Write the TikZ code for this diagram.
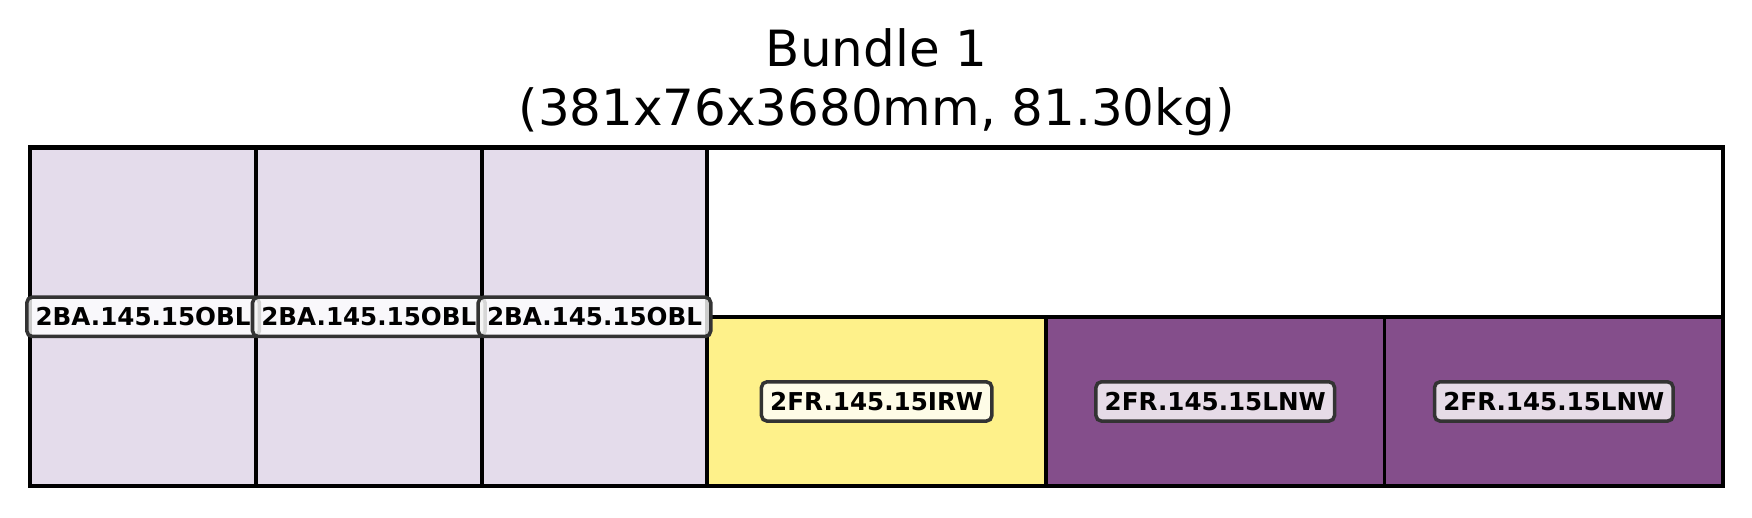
\documentclass[tikz,border=0pt]{standalone}
\usepackage{fontspec}
\setmainfont{DejaVu Sans}
\usepackage{xcolor}
\usepackage{tikz}
\usetikzlibrary{positioning}
\definecolor{bunlav}{HTML}{E4DCEB}
\definecolor{bunpurple}{HTML}{844E8B}
\definecolor{bunyellow}{HTML}{FEF18A}
\definecolor{bundark}{HTML}{333333}

\begin{document}
\begin{tikzpicture}[
  x=0.4443mm, y=0.4443mm,
  cell/.style={draw=black, line width=1.1pt},
  tag/.style={
    draw=bundark, line width=1pt, rounded corners=1.6pt,
    fill=white, fill opacity=0.8, text opacity=1,
    inner xsep=2.5pt, inner ysep=0pt, minimum height=11.2pt,
    font=\fontsize{7}{8}\selectfont\bfseries
  },
]
\useasboundingbox (-6.8,-7.0) rectangle (387.5,109.4);

% upright pieces
\foreach \i in {0,1,2}
  \draw[cell, fill=bunlav] ({50.8*\i},0) rectangle ({50.8*(\i+1)},76.2);
% flat pieces
\draw[cell, fill=bunyellow] (152.4,0) rectangle (228.6,38.1);
\draw[cell, fill=bunpurple] (228.6,0) rectangle (304.8,38.1);
\draw[cell, fill=bunpurple] (304.8,0) rectangle (381,38.1);
% bundle outline
\draw[line width=1.3pt] (0,0) rectangle (381,76.2);

\node[tag] (ba1) at (25.4,38.1) {2BA.145.15OBL};
\node[tag] (ba2) at (76.2,38.1) {2BA.145.15OBL};
\node[tag] (ba3) at (127,38.1) {2BA.145.15OBL};
\node[tag] (fr1) at (190.5,19.05) {2FR.145.15IRW};
\node[tag] (fr2) at (266.7,19.05) {2FR.145.15LNW};
\node[tag] (fr3) at (342.9,19.05) {2FR.145.15LNW};

\node[align=center, font=\fontsize{14.2}{16.6}\selectfont] (title)
  at (190.5,90.9) {Bundle 1\\(381x76x3680mm, 81.30kg)};
\end{tikzpicture}
\end{document}
